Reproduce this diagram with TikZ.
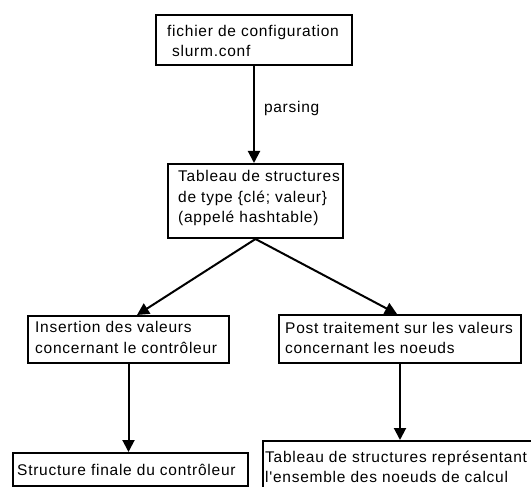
\documentclass[tikz,border=0pt]{standalone}
\usepackage{fontspec}
\newfontfamily\diagfont{Liberation Sans}[LetterSpace=4.8]
\usetikzlibrary{arrows.meta,calc}
\begin{document}
\begin{tikzpicture}[x=1pt,y=-1pt,
  every node/.style={font=\diagfont\fontsize{15.5}{20.5}\selectfont},
  box/.style={draw,line width=2pt,anchor=north west,inner sep=0pt},
  txt/.style={anchor=west,align=left,inner sep=0pt},
  flow/.style={line width=2pt,-{Triangle[width=12pt,length=12pt]}}]
  \useasboundingbox (0,0) rectangle (531,487);
  \clip (0,0) rectangle (531,487);

  % configuration file and parsed table
  \node[box,minimum width=196pt,minimum height=50pt] (conf) at (155,14) {};
  \node[txt] (conf-t) at ($(conf.west)+(12,1)$)
    {fichier de configuration\\\hspace*{5pt}slurm.conf};
  \node[box,minimum width=175pt,minimum height=74pt] (hash) at (167,163) {};
  \node[txt] (hash-t) at ($(hash.west)+(11,-3)$)
    {Tableau de structures\\de type \{clé; valeur\}\\(appelé hashtable)};

  % the two processing branches
  \node[box,minimum width=201pt,minimum height=47pt] (ctrl) at (27,315) {};
  \node[txt] (ctrl-t) at ($(ctrl.west)+(8,-2)$)
    {Insertion des valeurs\\concernant le contrôleur};
  \node[box,minimum width=242pt,minimum height=48pt] (post) at (278,314) {};
  \node[txt] (post-t) at ($(post.west)+(7,-1)$)
    {Post traitement sur les valeurs\\concernant les noeuds};

  % resulting structures
  \node[box,minimum width=235pt,minimum height=33pt] (final) at (12,452) {};
  \node[txt] (final-t) at ($(final.west)+(5,0)$) {Structure finale du contrôleur};
  \node[box,minimum width=280pt,minimum height=52pt] (nodes) at (262,440) {};
  \node[txt] (nodes-t) at ($(nodes.west)+(3,0)$)
    {Tableau de structures représentant\\l'ensemble des noeuds de calcul};

  % connectors
  \draw[flow] (conf.south) -- (conf.south |- hash.north)
    node[pos=0.44,anchor=west,inner sep=0pt,xshift=9pt] (parse) {parsing};
  \coordinate (ctrltip) at ($(ctrl.north west)+(110,0)$);
  \coordinate (posttip) at ($(post.north west)+(119,0)$);
  \draw[flow] (hash.south) -- (ctrltip);
  \draw[flow] (hash.south) -- (posttip);
  \draw[flow] (ctrl.south) -- (ctrl.south |- final.north);
  \draw[flow] (post.south) -- (post.south |- nodes.north);
\end{tikzpicture}
\end{document}
